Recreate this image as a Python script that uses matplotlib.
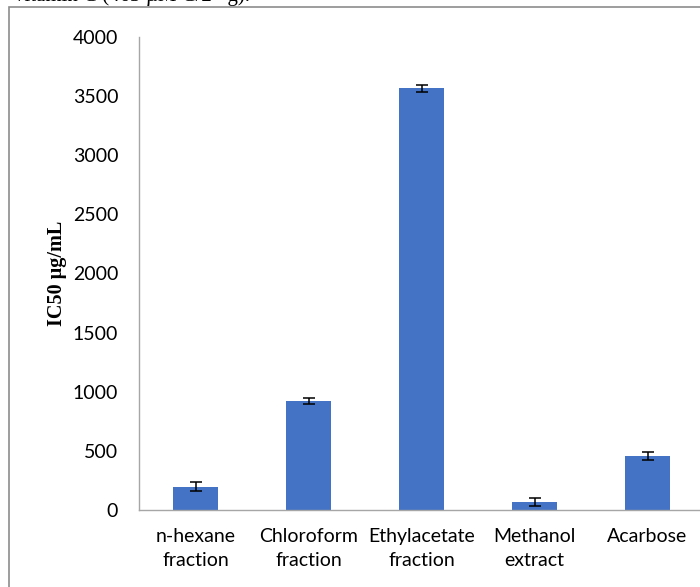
import matplotlib
matplotlib.use("Agg")
import matplotlib.pyplot as plt
from matplotlib.patches import Rectangle

categories = ["n-hexane\nfraction", "Chloroform\nfraction", "Ethylacetate\nfraction",
              "Methanol\nextract", "Acarbose"]
values = [197, 920, 3565, 68, 459]
errors = [38, 24, 30, 35, 32]
yticks = [0, 500, 1000, 1500, 2000, 2500, 3000, 3500, 4000]

W, H = 700, 587
fig = plt.figure(figsize=(W / 100, H / 100), dpi=100)

# page border and cut-off caption text above the chart
fig.patches.append(Rectangle((9 / W, -0.1), 1.2, 1.1 - 7 / H, transform=fig.transFigure,
                             fill=False, edgecolor="#8c8c8c", linewidth=1.2))
fig.text(14 / W, 1 - 1 / H, "vitamin C (463 µM C/2 *g).", family="Liberation Serif",
         fontsize=15, va="baseline", ha="left")

ax = fig.add_axes([139 / W, (H - 510) / H, 565 / W, 473 / H])
x = list(range(len(categories)))
ax.bar(x, values, width=0.4, color="#4472C4", zorder=2)
ax.errorbar(x, values, yerr=errors, fmt="none", ecolor="black", elinewidth=1.1,
            capsize=4.5, capthick=1.1, zorder=3)

ax.set_xlim(-0.5, len(categories) - 0.5)
ax.set_ylim(0, 4000)
ax.set_yticks(yticks)
ax.set_yticklabels([str(t) for t in yticks])
ax.set_xticks(x)
ax.set_xticklabels(categories, linespacing=1.5)

for s in ["top", "right"]:
    ax.spines[s].set_visible(False)
for s in ["left", "bottom"]:
    ax.spines[s].set_color("#a6a6a6")
    ax.spines[s].set_linewidth(1.0)
ax.tick_params(axis="both", length=0, labelsize=14)
ax.tick_params(axis="y", pad=15)
ax.tick_params(axis="x", pad=13)
for lab in ax.get_xticklabels() + ax.get_yticklabels():
    lab.set_family("Lato")

ax.set_ylabel("IC50 µg/mL", family="Liberation Serif", fontweight="bold", fontsize=14.5,
              labelpad=4)

fig.savefig("out.png", dpi=100)
